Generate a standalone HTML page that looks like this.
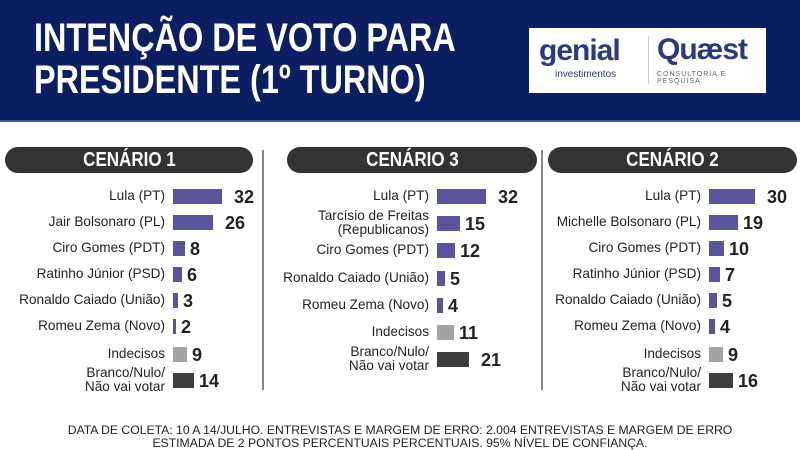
<!DOCTYPE html>
<html><head><meta charset="utf-8"><style>
*{margin:0;padding:0;box-sizing:border-box}
body{width:800px;height:450px;background:#fff;position:relative;overflow:hidden;font-family:"Liberation Sans",sans-serif}
#hd{position:absolute;left:0;top:0;width:800px;height:122px;background:#0c1f62;border-bottom:2px solid #3a55a0}
.t{position:absolute;left:34px;color:#fff;font-weight:bold;font-size:40px;line-height:40px;white-space:nowrap;transform-origin:0 0;transform:scaleX(0.81)}
#logo{position:absolute;left:529px;top:28px;width:237px;height:65px;background:#fff}
.pill{position:absolute;top:147px;height:26px;background:#333;border-radius:13px;color:#fff;font-weight:bold;font-size:20px;line-height:26px;text-align:center}
.pill span{display:inline-block;transform:scaleX(0.85)}
.div{position:absolute;top:150px;width:2px;height:240px;background:#888}
.l{position:absolute;text-align:right;font-size:13.6px;line-height:14px;color:#222;white-space:nowrap}
.b{position:absolute;height:15px}
.n{position:absolute;font-weight:bold;font-size:18px;line-height:18px;color:#222}
.ft{position:absolute;left:0;width:800px;text-align:center;font-size:12.2px;color:#222;line-height:13px}
</style></head><body>
<div id="hd">
<div class="t" style="top:18px">INTENÇÃO DE VOTO PARA</div>
<div class="t" style="top:60px">PRESIDENTE (1º TURNO)</div>
<div id="logo">
<div style="position:absolute;left:10px;top:6px;font-size:30px;font-weight:bold;color:#2b3a80;letter-spacing:-1px">genial</div>
<div style="position:absolute;left:26px;top:41px;font-size:10px;color:#2b3a80">investimentos</div>
<div style="position:absolute;left:119px;top:8px;width:1px;height:48px;background:#ccc"></div>
<div style="position:absolute;left:128px;top:5px;font-size:30px;font-weight:bold;color:#2b3a80;letter-spacing:-1px">Quæst</div>
<div style="position:absolute;left:128px;top:43px;font-size:7px;color:#666;letter-spacing:1px">CONSULTORIA E PESQUISA</div>
</div>
</div>
<div class="pill" style="left:5px;width:248px"><span>CENÁRIO 1</span></div>
<div class="pill" style="left:287px;width:250px"><span>CENÁRIO 3</span></div>
<div class="pill" style="left:548px;width:249px"><span>CENÁRIO 2</span></div>
<div class="div" style="left:262px"></div>
<div class="div" style="left:541px"></div>
<div id="c"></div>
<div class="ft" style="top:424px">DATA DE COLETA: 10 A 14/JULHO. ENTREVISTAS E MARGEM DE ERRO: 2.004 ENTREVISTAS E MARGEM DE ERRO</div>
<div class="ft" style="top:437px">ESTIMADA DE 2 PONTOS PERCENTUAIS PERCENTUAIS. 95% NÍVEL DE CONFIANÇA.</div>
<script>
var P='#5a559a',G='#a3a3a3',D='#3d3d3d';
var cols=[
{x:173,rows:[["Lula (PT)",32,P,196],["Jair Bolsonaro (PL)",26,P,222],["Ciro Gomes (PDT)",8,P,248],["Ratinho Júnior (PSD)",6,P,274],["Ronaldo Caiado (União)",3,P,300],["Romeu Zema (Novo)",2,P,326],["Indecisos",9,G,354],["Branco/Nulo/<br>Não vai votar",14,D,380]]},
{x:437,rows:[["Lula (PT)",32,P,196],["Tarcísio de Freitas<br>(Republicanos)",15,P,223],["Ciro Gomes (PDT)",12,P,250],["Ronaldo Caiado (União)",5,P,278],["Romeu Zema (Novo)",4,P,305],["Indecisos",11,G,332],["Branco/Nulo/<br>Não vai votar",21,D,359]]},
{x:709,rows:[["Lula (PT)",30,P,196],["Michelle Bolsonaro (PL)",19,P,222],["Ciro Gomes (PDT)",10,P,248],["Ratinho Júnior (PSD)",7,P,274],["Ronaldo Caiado (União)",5,P,300],["Romeu Zema (Novo)",4,P,326],["Indecisos",9,G,354],["Branco/Nulo/<br>Não vai votar",16,D,380]]}];
var h='';
cols.forEach(function(c){c.rows.forEach(function(r){
var w=Math.max(3,Math.round(r[1]*1.52)),y=r[3];
var two=r[0].indexOf('<br>')>0;
h+='<div class="l" style="right:'+(800-c.x+8)+'px;top:'+(two?y-14:y-7)+'px">'+r[0]+'</div>';
h+='<div class="b" style="left:'+c.x+'px;top:'+(y-7)+'px;width:'+w+'px;background:'+r[2]+'"></div>';
h+='<div class="n" style="left:'+(c.x+w+(r[1]>20?12:5))+'px;top:'+(y-8)+'px">'+r[1]+'</div>';
});});
document.getElementById('c').innerHTML=h;
</script>
</body></html>
